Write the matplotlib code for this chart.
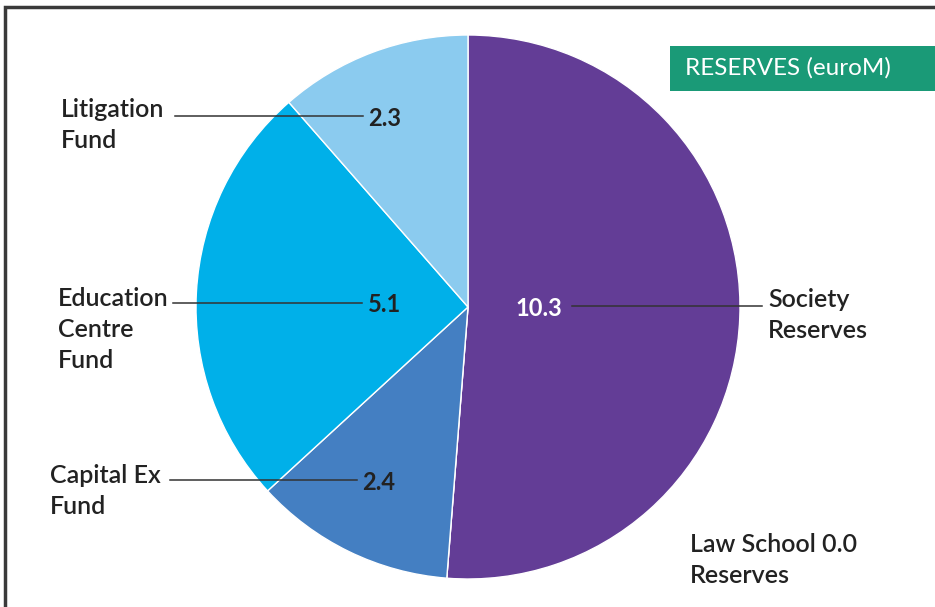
import matplotlib.pyplot as plt
from matplotlib.patches import Rectangle

# reserves in euro millions, clockwise from the top
categories = ["Society\nReserves", "Law School\nReserves", "Capital Ex\nFund",
              "Education\nCentre\nFund", "Litigation\nFund"]
values = [10.3, 0.0, 2.4, 5.1, 2.3]
colors = ["#633d96", "#633d96", "#447fc2", "#00b0e9", "#8bcbef"]
title = "RESERVES (euroM)"

W, H = 935, 607
FONT = "Lato"
STEP = 31  # px between label lines


def Y(py):
    # pixel row (from top) to data y
    return H - py


fig = plt.figure(figsize=(W / 100, H / 100), dpi=100)
ax = fig.add_axes([0, 0, 1, 1])

ax.pie(values, colors=colors, startangle=90, counterclock=False,
       center=(468, Y(307)), radius=272, frame=True,
       wedgeprops=dict(edgecolor="white", linewidth=1.0))
ax.set_xlim(0, W)
ax.set_ylim(0, H)
ax.set_aspect("equal")
ax.axis("off")

# frame round the panel (cut at right and bottom)
ax.plot([5, 5, W + 5], [-5, Y(7), Y(7)], color="#3a3a3a", lw=2.5,
        solid_joinstyle="miter", clip_on=False)

# title box
ax.add_patch(Rectangle((670, Y(91)), W - 670, 45, color="#1a9a77", lw=0))
ax.text(685, Y(75), title, color="white", fontsize=17.5, family=FONT,
        va="baseline", ha="left")

txt = dict(fontsize=18, family=FONT, color="#222222", fontweight="semibold",
           va="baseline", ha="left")
num = dict(fontsize=17, family=FONT, fontweight="bold", va="center",
           ha="left")
line = dict(color="#333333", lw=1.1)


def label(x, base, lines):
    for k, s in enumerate(lines):
        ax.text(x, Y(base + k * STEP), s, **txt)


# label x, first baseline, line start, line end, line y, number x
layout = {
    0: (768, 307, 572, 762, 306, 515),
    2: (50, 483, 170, 357, 480, 362),
    3: (58, 306, 173, 362, 303, 368),
    4: (61, 117, 175, 363, 116, 368),
}

for i, (lx, base, x0, x1, yl, nx) in layout.items():
    label(lx, base, categories[i].split("\n"))
    ax.plot([x0, x1], [Y(yl), Y(yl)], **line)
    c = "white" if i == 0 else "#222222"
    ax.text(nx, Y(yl + 2), f"{values[i]:.1f}", color=c, **num)

# zero slice has no leader line
name = categories[1].split("\n")
label(690, 552, [f"{name[0]} {values[1]:.1f}", name[1]])

fig.savefig("out.png", dpi=100)
